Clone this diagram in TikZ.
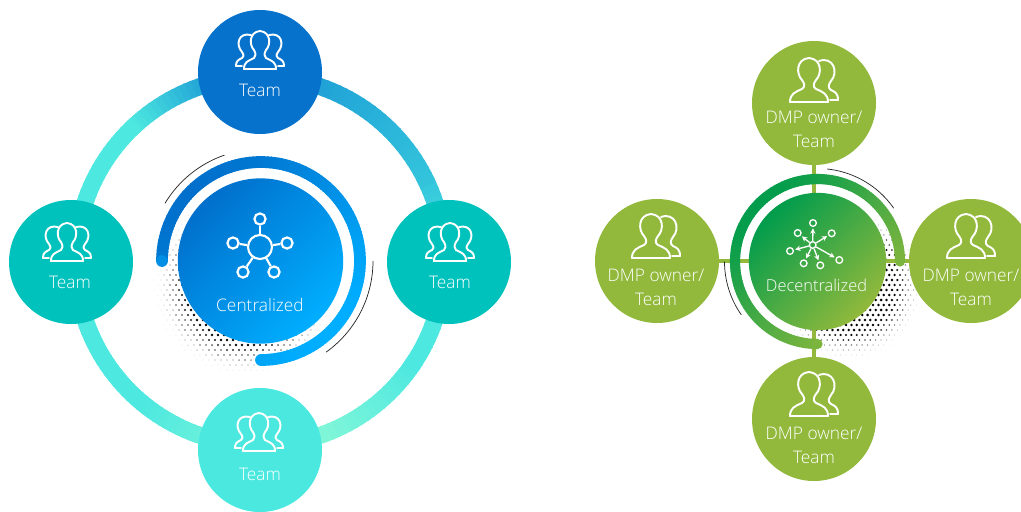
\documentclass[tikz,border=0pt]{standalone}
\usepackage{fontspec}
\setmainfont{Open Sans Light}
\usetikzlibrary{arrows.meta}
\definecolor{ctop}{HTML}{0672CB}
\definecolor{cteal}{HTML}{00C2BD}
\definecolor{cmint}{HTML}{4BE8E0}
\definecolor{cgreen}{HTML}{92B93C}
\definecolor{cA}{HTML}{0070CC}
\definecolor{cB}{HTML}{00AEFF}
\definecolor{gA}{HTML}{009C4C}
\definecolor{gB}{HTML}{92B93C}
\definecolor{ringtop}{HTML}{1E9FD6}
\definecolor{ringup}{HTML}{33C4DC}
\definecolor{ringmid}{HTML}{4DE8E0}
\definecolor{ringbot}{HTML}{80F6D8}
\tikzset{
  x=0.75pt,y=-0.75pt,
  disc/.style={circle,minimum size=93pt,inner sep=0pt},
  lbl/.style={text=white,font=\fontsize{13pt}{18pt}\selectfont,align=center,inner sep=0pt},
  glyph/.style={draw=white,line width=1.45pt,line join=round,line cap=round},
  thinarc/.style={draw=black!85,line width=0.55pt},
  hubdot/.style={circle,draw=white,line width=1.6pt,inner sep=0pt,minimum size=8.4pt},
  hubcore/.style={circle,draw=white,line width=1.6pt,inner sep=0pt,minimum size=18pt},
  spoke/.style={draw=white,line width=1.6pt},
  sat/.style={circle,draw=white,line width=1pt,inner sep=0pt,minimum size=5pt},
  ray/.style={draw=white,line width=1pt,-{Stealth[length=4pt,width=4pt]},shorten >=1pt},
  link/.style={draw=cgreen,line width=2.4pt},
  people3/.pic={
    \draw[glyph] (-16,19) .. controls (-16,12) and (-12,11) .. (-6,8)
      .. controls (-4,6) and (-4,4) .. (-6,0)
      .. controls (-11,-5) and (-11,-18) .. (0,-19)
      .. controls (11,-18) and (11,-5) .. (6,0)
      .. controls (4,4) and (4,6) .. (6,8)
      .. controls (12,11) and (16,12) .. (16,19) -- cycle;
    \draw[glyph] (9,-15) .. controls (21,-18) and (25,-6) .. (18,2)
      .. controls (16,5) and (16,7) .. (18,8)
      .. controls (22,10) and (24,11) .. (24,16) -- (18,16);
    \draw[glyph] (-9,-15) .. controls (-21,-18) and (-25,-6) .. (-18,2)
      .. controls (-16,5) and (-16,7) .. (-18,8)
      .. controls (-22,10) and (-24,11) .. (-24,16) -- (-18,16);
  },
  people2/.pic={
    \draw[glyph] (-19,22) .. controls (-19,14) and (-14,12) .. (-7,9)
      .. controls (-4,7) and (-4,4) .. (-7,0)
      .. controls (-13,-6) and (-13,-21) .. (0,-22)
      .. controls (13,-21) and (13,-6) .. (7,0)
      .. controls (4,4) and (4,7) .. (7,9)
      .. controls (14,12) and (19,14) .. (19,22) -- cycle;
    \draw[glyph] (10,-19) .. controls (24,-24) and (30,-8) .. (22,1)
      .. controls (19,5) and (19,8) .. (22,10)
      .. controls (26,12) and (29,13) .. (29,20) -- (21,20);
  }
}
\begin{document}
\begin{tikzpicture}
\useasboundingbox (0,0) rectangle (1021,511);
\clip (0,0) rectangle (1021,511);
% halftone left
\foreach \i in {0,...,36}{\foreach \j in {0,...,34}{
  \pgfmathsetmacro{\px}{146+6*\i+3*mod(\j,2)}
  \pgfmathsetmacro{\py}{205+5*\j}
  \pgfmathsetmacro{\dd}{veclen(\px-245,\py-284)/98}
  \ifdim\dd pt<1pt
    \pgfmathsetmacro{\rr}{min(1.5,3.4*(1-\dd))}
    \pgfmathsetmacro{\kk}{min(100,260*(1-\dd))}
    \fill[black!\kk] (\px,\py) circle (\rr);
  \fi
}}
% halftone right
\foreach \i in {0,...,32}{\foreach \j in {0,...,32}{
  \pgfmathsetmacro{\px}{765+5.4*\i+2.7*mod(\j,2)}
  \pgfmathsetmacro{\py}{205+5*\j}
  \pgfmathsetmacro{\dd}{veclen(\px-848,\py-285)/80}
  \ifdim\dd pt<1pt
    \pgfmathsetmacro{\rr}{min(1.4,3.2*(1-\dd))}
    \pgfmathsetmacro{\kk}{min(100,260*(1-\dd))}
    \fill[black!\kk] (\px,\py) circle (\rr);
  \fi
}}
% big ring, coloured by angle
\foreach \s/\e/\cl/\cr in {-90/-70/ringbot/ringbot,-70/-35/ringbot/ringmid,-35/0/ringmid/ringmid,0/25/ringmid/ringup,25/75/ringup/ringtop,75/105/ringtop/ringtop,105/132/ringtop/ringmid,132/230/ringmid/ringmid,230/270/ringmid/ringbot}{
  \pgfmathtruncatemacro{\sn}{\s+2}
  \pgfmathtruncatemacro{\en}{\e-1}
  \foreach \a in {\s,\sn,...,\en}{
    \pgfmathsetmacro{\t}{100*(\a-\s)/(\e-\s)}
    \colorlet{segc}{\cr!\t!\cl}
    \draw[segc,line width=12.75pt] ({260+184.5*cos(\a)},{261-184.5*sin(\a)}) -- ({260+184.5*cos(\a+2.6)},{261-184.5*sin(\a+2.6)});
  }
}
% left central arc
\foreach \a in {-90,-88,...,178}{
  \pgfmathsetmacro{\t}{100*(0.5+0.5*cos(\a+45))}
  \colorlet{segc}{cB!\t!cA}
  \draw[segc,line width=8.8pt] ({261+99*cos(\a)},{261-99*sin(\a)}) -- ({261+99*cos(\a+2.6)},{261-99*sin(\a+2.6)});
}
\fill[cB!85!cA] ({261+99*cos(-90)},{261-99*sin(-90)}) circle (5.9);
\fill[cA!50!cB] ({261+99*cos(180)},{261-99*sin(180)}) circle (5.9);
\draw[thinarc] plot[domain=109:149,samples=30] ({261+112*cos(\x)},{261-112*sin(\x)});
\draw[thinarc] plot[domain=-54.5:0,samples=30] ({261+112*cos(\x)},{261-112*sin(\x)});
% left discs
\node[disc,top color=cA,bottom color=cB,shading angle=45,minimum size=124pt] (cen) at (260.5,261) {};
\node[disc,fill=ctop] (teamT) at (260,72) {};
\node[disc,fill=cteal] (teamL) at (71,262) {};
\node[disc,fill=cteal] (teamR) at (449,262) {};
\node[disc,fill=cmint] (teamB) at (260,450) {};
\pic at (260,50) {people3};
\pic at (67,242) {people3};
\pic at (450,242) {people3};
\pic at (259,432) {people3};
\node[lbl] (tT) at (260,90) {Team};
\node[lbl] (tL) at (70,282) {Team};
\node[lbl] (tR) at (450,282) {Team};
\node[lbl] (tB) at (260,474) {Team};
\node[lbl] (tC) at (260,305) {Centralized};
% hub icon
\node[hubcore] (h0) at (260,247) {};
\node[hubdot] (h1) at (260,219) {};
\node[hubdot] (h2) at (233,243) {};
\node[hubdot] (h3) at (287,243) {};
\node[hubdot] (h4) at (243,272) {};
\node[hubdot] (h5) at (274,272) {};
\foreach \n in {h1,h2,h3,h4,h5}{\draw[spoke] (h0) -- (\n);}
% right: outer discs and links
\node[disc,fill=cgreen] (dT) at (814,103) {};
\node[disc,fill=cgreen] (dL) at (657,261) {};
\node[disc,fill=cgreen] (dR) at (971,261) {};
\node[disc,fill=cgreen] (dB) at (814,419) {};
\draw[link] (dT) -- (dB);
\draw[link] (dL) -- (dR);
% green arc
\foreach \a in {0,2,...,268}{
  \pgfmathsetmacro{\t}{100*(0.5+0.5*cos(\a+45))}
  \colorlet{segc}{gB!\t!gA}
  \draw[segc,line width=7.6pt] ({817.5+82.5*cos(\a)},{261.5-82.5*sin(\a)}) -- ({817.5+82.5*cos(\a+2.6)},{261.5-82.5*sin(\a+2.6)});
}
\fill[gB!85!gA] ({817.5+82.5*cos(0)},{261.5-82.5*sin(0)}) circle (5.1);
\fill[gB!85!gA] ({817.5+82.5*cos(270)},{261.5-82.5*sin(270)}) circle (5.1);
\draw[thinarc] plot[domain=35:84,samples=30] ({817.5+93*cos(\x)},{261.5-93*sin(\x)});
\draw[thinarc] plot[domain=180:215,samples=30] ({817.5+93*cos(\x)},{261.5-93*sin(\x)});
\node[disc,top color=gA,bottom color=gB,shading angle=45,minimum size=103pt] (dec) at (817.5,261.5) {};
% green icons and labels
\pic at (809,80) {people2};
\pic at (651,236) {people2};
\pic at (966,236) {people2};
\pic at (809,394) {people2};
\node[lbl] (lT) at (814,129) {DMP owner/\\Team};
\node[lbl] (lL) at (656,287) {DMP owner/\\Team};
\node[lbl] (lR) at (971,287) {DMP owner/\\Team};
\node[lbl] (lB) at (814,445) {DMP owner/\\Team};
\node[lbl,font=\fontsize{12.3pt}{18pt}\selectfont] (lC) at (816.5,285) {Decentralized};
% decentralized icon
\node[sat] (s0) at (812.7,245) {};
\node[sat] (s1) at (813,223) {};
\node[sat] (s2) at (797.7,233) {};
\node[sat] (s3) at (831.7,233.3) {};
\node[sat] (s4) at (790,251) {};
\node[sat] (s5) at (803.7,263.3) {};
\node[sat] (s6) at (820.3,265.3) {};
\node[sat] (s7) at (839.3,260) {};
\foreach \n in {s1,s2,s3,s4,s5,s6,s7}{\draw[ray] (s0) -- (\n);}
\end{tikzpicture}
\end{document}
